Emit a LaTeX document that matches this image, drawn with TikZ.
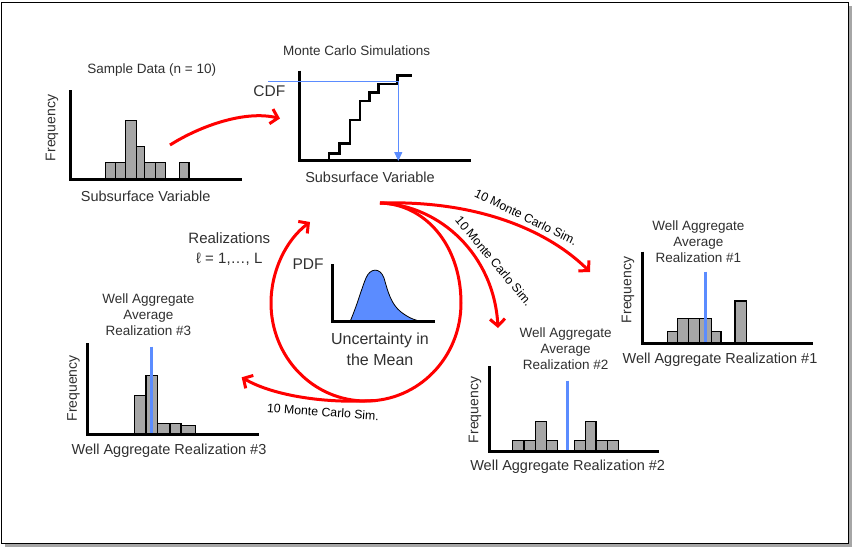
\documentclass[tikz,border=0pt]{standalone}
\usepackage{fontspec}
\setmainfont{Liberation Sans}
\usetikzlibrary{arrows.meta}
\definecolor{txt}{HTML}{303030}
\definecolor{barg}{HTML}{A6A6A6}
\definecolor{mblue}{HTML}{5B8CFF}
\definecolor{rarr}{HTML}{FF0000}
\begin{document}
\begin{tikzpicture}[x=1pt,y=-1pt,
  axis/.style={draw=black,line width=3pt,line join=miter},
  barbox/.style={draw=black,line width=1.3pt,fill=barg},
  meanline/.style={draw=mblue,line width=3pt},
  redarr/.style={draw=rarr,line width=3pt,-{Straight Barb[length=7pt,width=15pt]}},
  lbl/.style={font=\fontsize{14.5}{16}\selectfont,text=txt,inner sep=0pt},
  ttl/.style={font=\fontsize{13.5}{16}\selectfont,text=txt,inner sep=0pt,align=center},
  freq/.style={font=\fontsize{14}{16}\selectfont,text=txt,inner sep=0pt,rotate=90},
  simlbl/.style={font=\fontsize{12.3}{14}\selectfont,text=black,inner sep=0pt},
  big/.style={font=\fontsize{16}{21}\selectfont,text=txt,inner sep=0pt,align=center}]
\useasboundingbox (0,0) rectangle (852,547);
% frame with shadow
\fill[black!35] (5,6) rectangle (851.5,546.5);
\draw[fill=white,line width=1pt] (1.5,2) rectangle (848,543);

% ---------- Sample data histogram ----------
\foreach \a/\b/\t in {105.7/115.7/162.7,115.7/125.7/162.7,125.7/136.7/120.3,136.7/144.7/146.3,144.7/155.3/162.7,155.3/165.3/162.7,179.3/189/162.7}
  \draw[barbox] (\a,179.5) rectangle (\b,\t);
\draw[axis] (70.3,90) -- (70.3,179.5) -- (241.5,179.5);
\node[ttl] (sdt) at (151.7,70) {Sample Data (n = 10)};
\node[freq] (f0) at (52,128) {Frequency};
\node[lbl] (sv0) at (145.7,196) {Subsurface Variable};

% ---------- CDF ----------
\draw[axis] (299.3,70.7) -- (299.3,160.7) -- (471,160.7);
\draw[black,line width=2.5pt,line join=miter] (329,160.7) -- (329,153.3) -- (339.3,153.3) -- (339.3,143.3) -- (350,143.3) -- (350,120) -- (360,120) -- (360,101) -- (369.3,101) -- (369.3,92.3) -- (378.3,92.3) -- (378.3,84) -- (397.3,84) -- (397.3,75.7) -- (411.7,75.7);
\draw[mblue,line width=1.1pt,-{Triangle[length=9pt,width=8pt]}] (268.3,81.3) -- (398.3,81.3) -- (398.3,161);
\node[ttl] (mcs) at (356.7,51) {Monte Carlo Simulations};
\node[font=\fontsize{15.5}{17}\selectfont,text=txt,inner sep=0pt] (cdf) at (269.3,91) {CDF};
\node[lbl] (sv1) at (370,177) {Subsurface Variable};

% ---------- PDF ----------
\draw[fill=mblue,draw=black,line width=0.8pt] (350,321.7) .. controls (358,303) and (362,287) .. (366,278) .. controls (370,268) and (380,267) .. (384,278) .. controls (388,292) and (391,304) .. (401,312) .. controls (409,318) and (415,320.5) .. (423,321.7) -- cycle;
\draw[axis] (332.7,264) -- (332.7,321.7) -- (435,321.7);
\node[font=\fontsize{15.5}{17}\selectfont,text=txt,inner sep=0pt] (pdf) at (308,264.5) {PDF};
\node[big] (unc) at (380,349) {Uncertainty in\\the Mean};
\node[font=\fontsize{15}{20}\selectfont,text=txt,inner sep=0pt,align=center] (real) at (229.3,249) {Realizations\\ℓ = 1,…, L};

% ---------- Histogram #1 ----------
\foreach \a/\b/\t in {667.3/677.8/331.7,677.8/688.8/318.3,688.8/699.8/318.3,699.8/711.2/318.3,711.2/721/331.7,735/746.7/301}
  \draw[barbox] (\a,343.3) rectangle (\b,\t);
\draw[meanline] (705.3,271.7) -- (705.3,343);
\draw[axis] (642.3,251.7) -- (642.3,343.3) -- (813.3,343.3);
\node[ttl] (t1) at (698.3,241.5) {Well Aggregate\\Average\\Realization \#1};
\node[freq] (f1) at (628,290) {Frequency};
\node[lbl] (x1) at (720,360) {Well Aggregate Realization \#1};

% ---------- Histogram #2 ----------
\foreach \a/\b/\t in {512.7/524/440.7,524/535.7/440.7,535.7/546.3/421.3,546.3/557.3/440.7,574.3/585.7/440.7,585.7/596/421.3,596/607.3/440.7,607.3/618.3/440.7}
  \draw[barbox] (\a,451) rectangle (\b,\t);
\draw[meanline] (567.3,380.7) -- (567.3,451);
\draw[axis] (489,366) -- (489,451) -- (659.3,451);
\node[ttl] (t2) at (565.7,348.8) {Well Aggregate\\Average\\Realization \#2};
\node[freq] (f2) at (475,410) {Frequency};
\node[lbl] (x2) at (567.7,467) {Well Aggregate Realization \#2};

% ---------- Histogram #3 ----------
\foreach \a/\b/\t in {134.3/146/395.3,146/157.3/375.7,157.3/170/423.3,170/181/423.3,181/195.3/425.7}
  \draw[barbox] (\a,434.3) rectangle (\b,\t);
\draw[meanline] (151.3,346.7) -- (151.3,434);
\draw[axis] (87.7,343.3) -- (87.7,434.3) -- (259,434.3);
\node[ttl] (t3) at (148.3,315) {Well Aggregate\\Average\\Realization \#3};
\node[freq] (f3) at (73.5,388.3) {Frequency};
\node[lbl] (x3) at (169,450.5) {Well Aggregate Realization \#3};

% ---------- red arrows ----------
\coordinate (a1s) at (170,145);
\coordinate (a1e) at (280,118.5);
\coordinate (src) at (380,203);
\coordinate (e1) at (590,272);
\coordinate (e2) at (498,328);
\coordinate (cbot) at (375,400.5);
\coordinate (e3) at (241.7,377.3);
\coordinate (cend) at (310,222);
\draw[redarr] (a1s) .. controls (200,126) and (245,110) .. (a1e);
\draw[redarr] (src) .. controls (425,204) and (461,245) .. (461,303) .. controls (461,358) and (418,401) .. (366,401) .. controls (313,401) and (271,357) .. (271,303) .. controls (271,271) and (286,240) .. (cend);
\draw[redarr] (src) .. controls (480,200) and (550,232) .. (e1);
\draw[redarr] (src) .. controls (440,205) and (494,255) .. (e2);
\draw[redarr] (cbot) .. controls (320,404) and (270,394) .. (e3);
\node[simlbl,rotate=-26] (s1) at (526,217) {10 Monte Carlo Sim.};
\node[simlbl,rotate=-50] (s2) at (494,261) {10 Monte Carlo Sim.};
\node[simlbl,rotate=-4] (s3) at (323,412) {10 Monte Carlo Sim.};
\end{tikzpicture}
\end{document}
